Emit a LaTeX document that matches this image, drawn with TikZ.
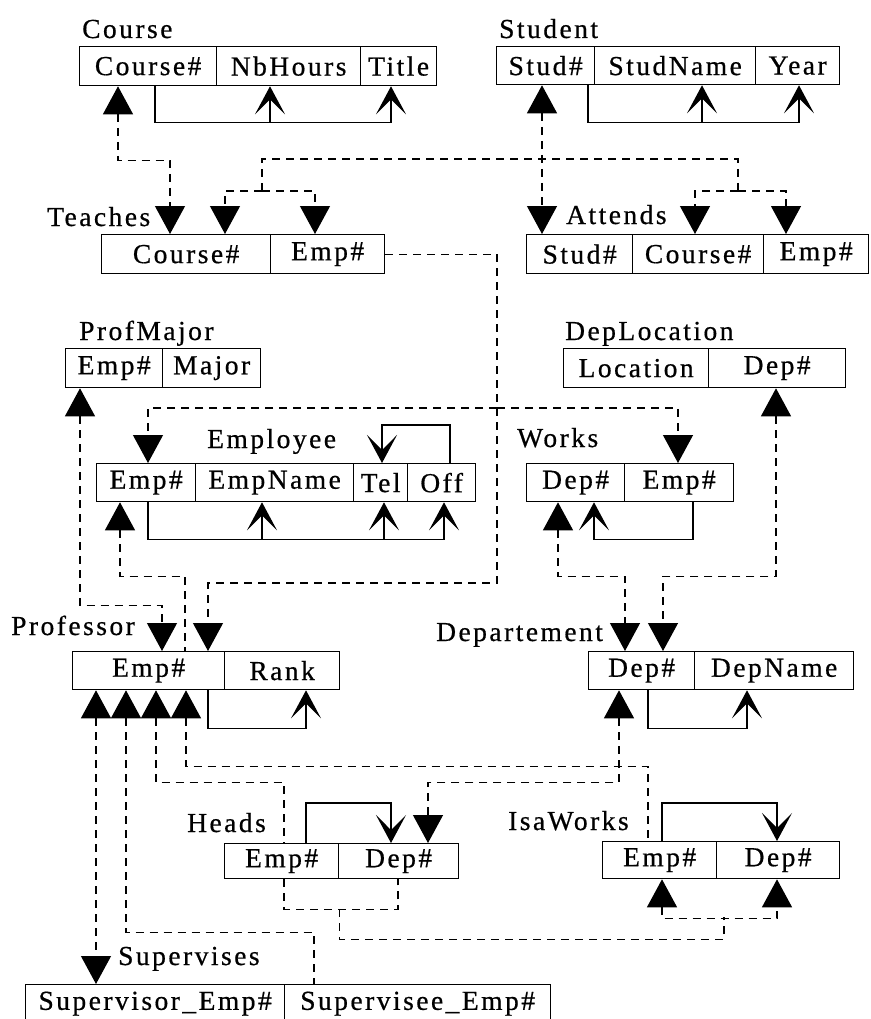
\documentclass[tikz,border=0pt]{standalone}
\usepackage{fontspec}
\newfontfamily\relfont[LetterSpace=9,FakeBold=0.6]{Liberation Serif}
\usepackage{tikz}
\usetikzlibrary{arrows.meta}

\tikzset{
  cell/.style={draw, line width=1.3pt, inner sep=0pt, anchor=north west,
    minimum height=38pt, font=\relfont\fontsize{27.5}{30}\selectfont},
  lbl/.style={inner sep=0pt, anchor=base west, font=\relfont\fontsize{27.5}{30}\selectfont},
  fd/.style={line width=1.3pt, -{Stealth[length=28pt,width=30pt,inset=15pt]}},
  ind/.style={line width=1.2pt, dash pattern=on 8pt off 6pt}
}

\begin{document}
\begin{tikzpicture}[x=1pt, y=-1pt, >={Triangle[length=28pt,width=30pt]}]
  \useasboundingbox (0,0) rectangle (870,1019);

  % relations
  \node[lbl] (lblCourse) at (82,38) {Course};
  \node[cell, minimum width=137pt, minimum height=39pt] (courseNo) at (79,46) {Course\#};
  \node[cell, minimum width=144pt, minimum height=39pt] (courseHours) at (216,46) {NbHours};
  \node[cell, minimum width=76pt, minimum height=39pt] (courseTitle) at (360,46) {Title};

  \node[lbl] (lblStudent) at (499,38) {Student};
  \node[cell, minimum width=98pt] (studNo) at (496,46) {Stud\#};
  \node[cell, minimum width=161pt] (studName) at (594,46) {StudName};
  \node[cell, minimum width=84pt] (studYear) at (755,46) {Year};

  \node[lbl] (lblTeaches) at (47,226) {Teaches};
  \node[cell, minimum width=169pt, minimum height=39pt] (teachCourse) at (101,234) {Course\#};
  \node[cell, minimum width=114pt, minimum height=39pt] (teachEmp) at (270,234) {Emp\#};

  \node[lbl] (lblAttends) at (566,224) {Attends};
  \node[cell, minimum width=106pt, minimum height=39pt] (attStud) at (526,234) {Stud\#};
  \node[cell, minimum width=131pt, minimum height=39pt] (attCourse) at (632,234) {Course\#};
  \node[cell, minimum width=105pt, minimum height=39pt] (attEmp) at (763,234) {Emp\#};

  \node[lbl] (lblMajor) at (79,340) {ProfMajor};
  \node[cell, minimum width=97pt, minimum height=39pt] (majorEmp) at (65,348) {Emp\#};
  \node[cell, minimum width=98pt, minimum height=39pt] (majorMajor) at (162,348) {Major};

  \node[lbl] (lblLoc) at (565,340) {DepLocation};
  \node[cell, minimum width=145pt, minimum height=39pt] (locLoc) at (563,348) {Location};
  \node[cell, minimum width=137pt, minimum height=39pt] (locDep) at (708,348) {Dep\#};

  \node[lbl] (lblEmp) at (207,448) {Employee};
  \node[cell, minimum width=99pt] (empNo) at (96,463) {Emp\#};
  \node[cell, minimum width=158pt] (empName) at (195,463) {EmpName};
  \node[cell, minimum width=54pt] (empTel) at (353,463) {Tel};
  \node[cell, minimum width=68pt] (empOff) at (407,463) {Off};

  \node[lbl] (lblWorks) at (517,447) {Works};
  \node[cell, minimum width=98pt] (worksDep) at (526,463) {Dep\#};
  \node[cell, minimum width=109pt] (worksEmp) at (624,463) {Emp\#};

  \node[lbl] (lblProf) at (11,635) {Professor};
  \node[cell, minimum width=152pt] (profEmp) at (72,651) {Emp\#};
  \node[cell, minimum width=115pt] (profRank) at (224,651) {Rank};

  \node[lbl] (lblDep) at (436,641) {Departement};
  \node[cell, minimum width=106pt] (depNo) at (588,651) {Dep\#};
  \node[cell, minimum width=159pt] (depName) at (694,651) {DepName};

  \node[lbl] (lblHeads) at (187,832) {Heads};
  \node[cell, minimum width=114pt, minimum height=35pt] (headsEmp) at (224,843) {Emp\#};
  \node[cell, minimum width=120pt, minimum height=35pt] (headsDep) at (338,843) {Dep\#};

  \node[lbl] (lblIsa) at (508,830) {IsaWorks};
  \node[cell, minimum width=114pt, minimum height=37pt] (isaEmp) at (602,841) {Emp\#};
  \node[cell, minimum width=123pt, minimum height=37pt] (isaDep) at (716,841) {Dep\#};

  \node[lbl] (lblSup) at (118,965) {Supervises};
  \node[cell, minimum width=259pt] (supvisor) at (25,984) {Supervisor\_Emp\#};
  \node[cell, minimum width=266pt] (supvisee) at (284,984) {Supervisee\_Emp\#};

  % functional dependencies
  \draw[fd] ([xshift=76pt]courseNo.south west) -- ++(0,36) -| ([xshift=31pt]courseTitle.south west);
  \draw[fd] ([xshift=54pt,yshift=-36pt]courseHours.south west) -- ([xshift=54pt]courseHours.south west);
  \draw[fd] ([xshift=92pt]studNo.south west) -- ++(0,37) -| ([xshift=44pt]studYear.south west);
  \draw[fd] ([xshift=108pt,yshift=-37pt]studName.south west) -- ([xshift=108pt]studName.south west);
  \draw[fd] ([xshift=52pt]empNo.south west) -- ++(0,37) -| ([xshift=37pt]empOff.south west);
  \draw[fd] ([xshift=67pt,yshift=-37pt]empName.south west) -- ([xshift=67pt]empName.south west);
  \draw[fd] ([xshift=31pt,yshift=-37pt]empTel.south west) -- ([xshift=31pt]empTel.south west);
  \draw[fd] ([xshift=43pt]empOff.north west) -- ++(0,-38) -| ([xshift=29pt]empTel.north west);
  \draw[fd] ([xshift=69pt]worksEmp.south west) -- ++(0,37) -| ([xshift=68pt]worksDep.south west);
  \draw[fd] ([xshift=136pt]profEmp.south west) -- ++(0,38) -| ([xshift=82pt]profRank.south west);
  \draw[fd] ([xshift=60pt]depNo.south west) -- ++(0,38) -| ([xshift=53pt]depName.south west);
  \draw[fd] ([xshift=82pt]headsEmp.north west) -- ++(0,-40) -| ([xshift=53pt]headsDep.north west);
  \draw[fd] ([xshift=60pt]isaEmp.north west) -- ++(0,-38) -| ([xshift=61pt]isaDep.north west);

  % inclusion dependencies
  \draw[ind,<->] ([xshift=39pt]courseNo.south west) -- ++(0,74) -| ([xshift=69pt]teachCourse.north west);
  \draw[ind,<->] ([xshift=46pt]studNo.south west) -- ([xshift=16pt]attStud.north west);
  \coordinate (forkTeach) at (262,191);
  \coordinate (forkAtt) at (738,191);
  \draw[ind] (forkTeach) -- ++(0,-32) -| (forkAtt);
  \draw[ind,->] (forkTeach) -| ([xshift=124pt]teachCourse.north west);
  \draw[ind,->] (forkTeach) -| ([xshift=45pt]teachEmp.north west);
  \draw[ind,->] (forkAtt) -| ([xshift=63pt]attCourse.north west);
  \draw[ind,->] (forkAtt) -| ([xshift=23pt]attEmp.north west);

  \coordinate (forkEmp) at (497,408);
  \coordinate (forkProf) at (497,583);
  \draw[ind,->] (teachEmp.east) -| (forkProf) -| ([xshift=136pt]profEmp.north west);
  \draw[ind,->] (forkEmp) -| ([xshift=52pt]empNo.north west);
  \draw[ind,->] (forkEmp) -| ([xshift=54pt]worksEmp.north west);

  \draw[ind,<->] ([xshift=15pt]majorEmp.south west) -- ++(0,217) -| ([xshift=90pt]profEmp.north west);
  \draw[ind,<-] ([xshift=24pt]empNo.south west) -- ++(0,74) -| ([xshift=113pt]profEmp.north west);
  \draw[ind,<->] ([xshift=32pt]worksDep.south west) -- ++(0,74) -| ([xshift=37pt]depNo.north west);
  \draw[ind,<->] ([xshift=68pt]locDep.south west) -- ++(0,188) -| ([xshift=75pt]depNo.north west);

  \draw[ind,<->] ([xshift=24pt]profEmp.south west) -- ([xshift=71pt]supvisor.north west);
  \draw[ind,<-] ([xshift=54pt]profEmp.south west) -- ++(0,242) -| ([xshift=30pt]supvisee.north west);
  \draw[ind,<-] ([xshift=84pt]profEmp.south west) -- ++(0,92) -| ([xshift=60pt]headsEmp.north west);
  \draw[ind,<-] ([xshift=114pt]profEmp.south west) -- ++(0,76) -| ([xshift=46pt]isaEmp.north west);
  \draw[ind,<->] ([xshift=31pt]depNo.south west) -- ++(0,92) -| ([xshift=90pt]headsDep.north west);

  \coordinate (isaMid) at (724,917);
  \draw[ind] ([xshift=60pt]headsEmp.south west) -- ++(0,30) -| ([xshift=60pt]headsDep.south west);
  \draw[ind] ([yshift=-30pt]headsEmp.south east) -- ++(0,30) -| (isaMid);
  \draw[ind,<->] ([xshift=60pt]isaEmp.south west) -- ++(0,39) -| ([xshift=61pt]isaDep.south west);
\end{tikzpicture}
\end{document}
